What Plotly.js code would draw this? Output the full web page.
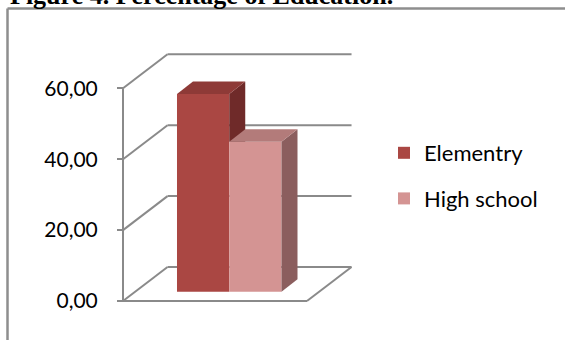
<!DOCTYPE html>
<html>
<head>
<meta charset="utf-8">
<script src="https://cdn.plot.ly/plotly-3.0.1.min.js"></script>
<style>
  html, body { margin: 0; padding: 0; background: #ffffff; }
  #chart { width: 565px; height: 340px; }
</style>
</head>
<body>
<div id="chart"></div>
<script>
// ---- Data ----
const seriesNames = ['Elementry', 'High school'];
const seriesValues = [55.77, 42.31];
const tickValues = [0, 20, 40, 60];
const chartTitle = 'Figure 4. Percentage of Education.';

// ---- Styles ----
const faceColors = [
  { front: '#AA4743', side: '#6F2A29', top: '#8E3A37' },
  { front: '#D49493', side: '#8B5E5E', top: '#B37B7A' }
];
const lineColor = '#8A8A8A';
const fontFamily = 'Lato, "Open Sans", sans-serif';

// ---- Page / plot area geometry ----
const W = 565, H = 340;
const M = { l: 110, r: 205, t: 40, b: 35 };
const plotW = W - M.l - M.r, plotH = H - M.t - M.b;

// Axis units: one x unit = one bar width; y in percent
const xRange = [-2.282, 2.502];
const yRange = [-1.128, 73.62];

// Oblique 3-D projection: walls, floor and bar depth in axis units
const floorLeft = -2.033, floorRight = 1.488;
const wallDX = 0.852, wallDY = 9.59;
const barBase = 2.62, barDX = 0.306, barDY = 3.5;

const toPaperX = px => (px - M.l) / plotW;
const toPaperY = py => (H - M.b - py) / plotH;

// ---- Walls and floor (drawn under the bars) ----
const shapes = [];
function seg(x0, y0, x1, y1) {
  shapes.push({ type: 'line', xref: 'x', yref: 'y', x0, y0, x1, y1, layer: 'below',
                line: { color: lineColor, width: 2 } });
}
const yTop = Math.max(...tickValues);
seg(floorLeft, 0, floorLeft, yTop);
tickValues.forEach(t => {
  seg(floorLeft, t, floorLeft + wallDX, t + wallDY);
  seg(floorLeft + wallDX, t + wallDY, floorRight + wallDX, t + wallDY);
});
seg(floorLeft, 0, floorRight, 0);
seg(floorRight, 0, floorRight + wallDX, wallDY);

// Outer chart frame
const frame = { color: '#8E8E8E', width: 2.5 };
shapes.push({ type: 'line', xref: 'paper', yref: 'paper', layer: 'above',
  x0: toPaperX(7.5), x1: toPaperX(7.5), y0: toPaperY(8.5), y1: toPaperY(350), line: frame });
shapes.push({ type: 'line', xref: 'paper', yref: 'paper', layer: 'above',
  x0: toPaperX(7.5), x1: toPaperX(575), y0: toPaperY(8.5), y1: toPaperY(8.5), line: frame });

// ---- Bars: front faces as bar traces, side and top faces as filled polygons ----
const traces = [];
seriesNames.forEach((name, i) => {
  traces.push({
    type: 'bar', name: name, x: [i - 0.5], y: [seriesValues[i]], base: [barBase], width: [1],
    marker: { color: faceColors[i].front, line: { width: 0 } },
    legendgroup: name, hoverinfo: 'skip'
  });
});

function face(xs, ys, color) {
  return { type: 'scatter', mode: 'lines', x: xs.concat(xs[0]), y: ys.concat(ys[0]),
           fill: 'toself', fillcolor: color, line: { width: 0, color: color },
           showlegend: false, hoverinfo: 'skip' };
}

seriesValues.forEach((v, i) => {
  const x0 = i - 1, x1 = i;
  const top = barBase + v;
  const next = seriesValues[i + 1];
  let side;
  if (next === undefined) {
    side = face([x1, x1 + barDX, x1 + barDX, x1],
                [barBase, barBase + barDY, top + barDY, top], faceColors[i].side);
  } else {
    // lower part of this side face is hidden by the neighbouring bar
    const low = barBase + Math.min(next, v);
    side = face([x1, x1 + barDX, x1 + barDX, x1],
                [low, low, top + barDY, top], faceColors[i].side);
  }
  traces.push(side);
  traces.push(face([x0, x1, x1 + barDX, x0 + barDX],
                   [top, top, top + barDY, top + barDY], faceColors[i].top));
});

const layout = {
  width: W, height: H,
  margin: M,
  paper_bgcolor: '#ffffff', plot_bgcolor: 'rgba(0,0,0,0)',
  separators: ',.',
  barmode: 'overlay',
  showlegend: true,
  xaxis: { range: xRange, visible: false, fixedrange: true },
  yaxis: {
    range: yRange, anchor: 'free', side: 'left',
    position: (floorLeft - xRange[0]) / (xRange[1] - xRange[0]),
    tickvals: tickValues, tickformat: '.2f',
    ticks: 'outside', ticklen: 6, tickwidth: 2, tickcolor: lineColor,
    ticklabelstandoff: 15,
    showgrid: false, zeroline: false, showline: false, fixedrange: true,
    tickfont: { family: fontFamily, size: 21, color: '#000000' }
  },
  legend: {
    x: toPaperX(384), xanchor: 'left', y: toPaperY(132), yanchor: 'top',
    font: { family: fontFamily, size: 22, color: '#000000' },
    traceorder: 'grouped', tracegroupgap: 14,
    bgcolor: 'rgba(0,0,0,0)', borderwidth: 0
  },
  shapes: shapes,
  annotations: [{
    text: '<b>' + chartTitle + '</b>', showarrow: false,
    xref: 'paper', yref: 'paper', x: toPaperX(8), y: toPaperY(12),
    xanchor: 'left', yanchor: 'bottom',
    font: { family: '"Liberation Serif", "Times New Roman", serif', size: 26, color: '#000000' }
  }]
};

Plotly.newPlot('chart', traces, layout, { displayModeBar: false, staticPlot: true });
</script>
</body>
</html>
